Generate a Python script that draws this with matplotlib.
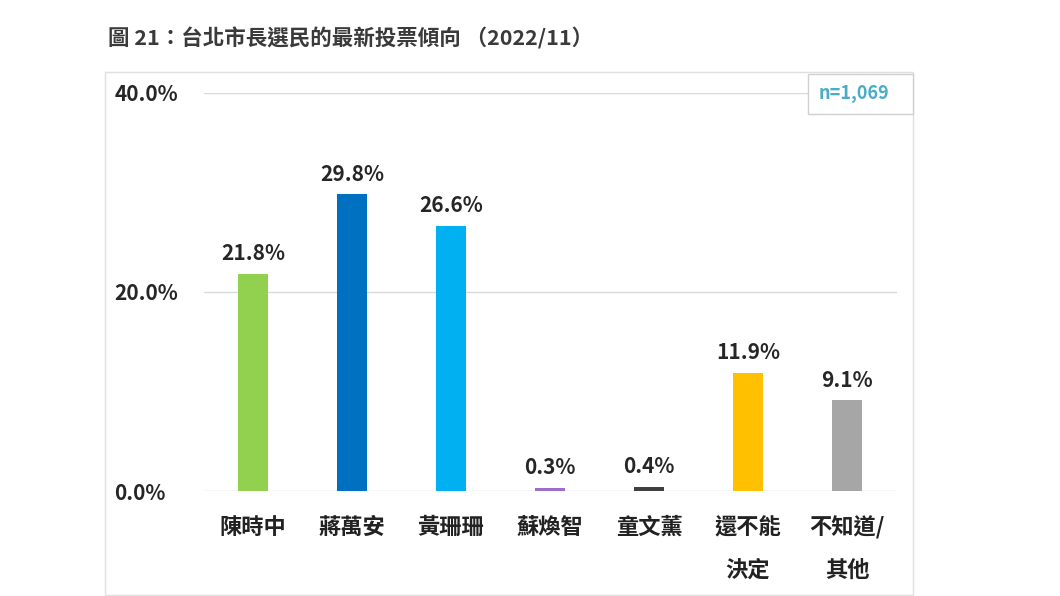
import matplotlib.pyplot as plt
from matplotlib.patches import Rectangle

plt.rcParams["font.family"] = ["Noto Sans CJK TC", "DejaVu Sans"]

candidates = ["陳時中", "蔣萬安", "黃珊珊", "蘇煥智", "童文薰", "還不能\n決定", "不知道/\n其他"]
shares = [21.8, 29.8, 26.6, 0.3, 0.4, 11.9, 9.1]
colors = ["#92D050", "#0070C0", "#00B0F0", "#9B6FC9", "#404040", "#FFC000", "#A6A6A6"]
yticks = [0, 20, 40]

W, H = 1060, 596
fig = plt.figure(figsize=(W / 100, H / 100), dpi=100)

# outer chart frame
fig.patches.append(Rectangle((105 / W, 1 - 595 / H), 808 / W, 523 / H,
                             transform=fig.transFigure, fill=False,
                             edgecolor="#E0E0E0", linewidth=1))

fig.text(108 / W, 1 - 38 / H, "圖 21：台北市長選民的最新投票傾向 （2022/11）",
         fontsize=15.5, fontweight="bold", color="#3A3A3A", va="center", ha="left")

ax = fig.add_axes([203.5 / W, 1 - 491 / H, 693 / W, 398 / H])
x = range(len(candidates))
ax.bar(x, shares, width=0.3, color=colors, zorder=3)
for i, v in enumerate(shares):
    ax.text(i, v + 1.0, f"{v}%", ha="center", va="bottom", fontsize=15,
            fontweight="bold", color="#262626")

ax.set_xlim(-0.5, len(candidates) - 0.5)
ax.set_ylim(0, 40)
ax.set_yticks(yticks)
ax.set_yticklabels([f"{t:.1f}%" for t in yticks], fontsize=15,
                   fontweight="bold", color="#262626")
ax.set_xticks(list(x))
ax.set_xticklabels(candidates, fontsize=16, fontweight="bold", color="#222222",
                   linespacing=2.1, va="top")
ax.tick_params(axis="both", length=0)
ax.tick_params(axis="x", pad=18)
ax.tick_params(axis="y", pad=64)
for lab in ax.get_yticklabels():
    lab.set_ha("left")
for s in ax.spines.values():
    s.set_visible(False)
ax.grid(axis="y", color="#D9D9D9", linewidth=1, zorder=0)
ax.set_axisbelow(True)

# sample size box
fig.patches.append(Rectangle((808 / W, 1 - 114 / H), 105 / W, 40 / H,
                             transform=fig.transFigure, facecolor="white",
                             edgecolor="#D0D0D0", linewidth=1, zorder=5))
fig.text(854 / W, 1 - 94 / H, "n=1,069", fontsize=13, fontweight="bold",
         color="#4BACC6", ha="center", va="center", zorder=6)

fig.savefig("out.png", dpi=100)
